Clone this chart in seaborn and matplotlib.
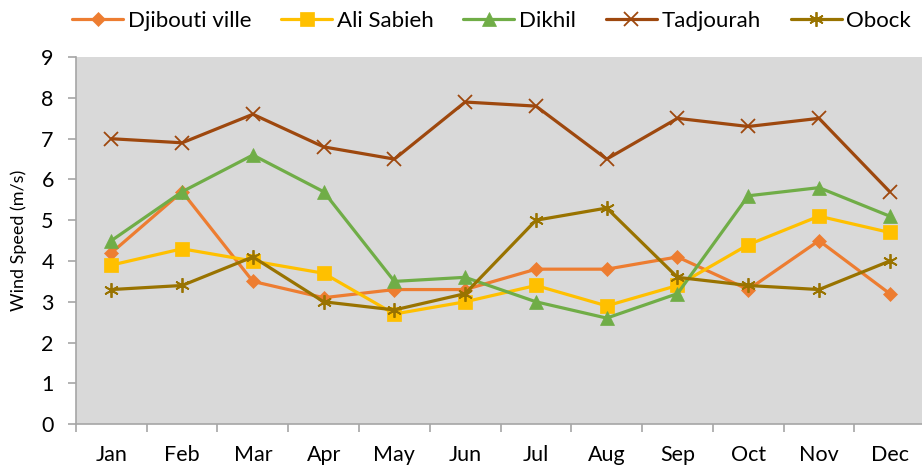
import numpy as np
import pandas as pd
import matplotlib.pyplot as plt
import seaborn as sns
from matplotlib.ticker import FixedLocator

# donnees
months = ["Jan", "Feb", "Mar", "Apr", "May", "Jun", "Jul", "Aug", "Sep", "Oct", "Nov", "Dec"]
djibouti = [4.2, 5.7, 3.5, 3.1, 3.3, 3.3, 3.8, 3.8, 4.1, 3.3, 4.5, 3.2]
ali_sabieh = [3.9, 4.3, 4.0, 3.7, 2.7, 3.0, 3.4, 2.9, 3.4, 4.4, 5.1, 4.7]
dikhil = [4.5, 5.7, 6.6, 5.7, 3.5, 3.6, 3.0, 2.6, 3.2, 5.6, 5.8, 5.1]
tadjourah = [7.0, 6.9, 7.6, 6.8, 6.5, 7.9, 7.8, 6.5, 7.5, 7.3, 7.5, 5.7]
obock = [3.3, 3.4, 4.1, 3.0, 2.8, 3.2, 5.0, 5.3, 3.6, 3.4, 3.3, 4.0]

stations = ["Djibouti ville", "Ali Sabieh", "Dikhil", "Tadjourah", "Obock"]
series = [djibouti, ali_sabieh, dikhil, tadjourah, obock]
colors = ["#ED7D31", "#FFC000", "#70AD47", "#9E480E", "#997300"]
markers = ["D", "s", "^", "x", (6, 2, 0)]
msizes = [7, 9.5, 9.5, 9.5, 10.5]

df = pd.DataFrame({
    "month": months * len(stations),
    "station": np.repeat(stations, len(months)),
    "speed": np.concatenate(series),
})
df["pos"] = df["month"].map({m: i for i, m in enumerate(months)})

sns.set_style("white")
plt.rcParams["font.family"] = ["Lato", "DejaVu Sans"]
plt.rcParams["text.color"] = "black"
plt.rcParams["xtick.color"] = "black"
plt.rcParams["ytick.color"] = "black"
plt.rcParams["axes.labelcolor"] = "black"

fig = plt.figure(figsize=(9.22, 4.65), dpi=100)
ax = fig.add_axes([0.0824, 0.088, 0.921, 0.789])
ax.set_facecolor("#D9D9D9")

for name, col, mk, ms in zip(stations, colors, markers, msizes):
    sub = df[df["station"] == name]
    sns.lineplot(data=sub, x="pos", y="speed", ax=ax, color=col, marker=mk,
                 markersize=ms, linewidth=2.3, markeredgecolor=col,
                 markeredgewidth=1.3 if mk in ("x", (6, 2, 0)) else 0.5,
                 label=name, clip_on=False)

ax.set_xlim(-0.5, 11.5)
ax.set_ylim(0, 9)
ax.set_yticks(range(10))
ax.set_xticks(range(12))
ax.set_xticklabels(months, fontsize=15.5)
ax.xaxis.set_minor_locator(FixedLocator(np.arange(-0.5, 12, 1)))
ax.tick_params(axis="x", which="major", length=0, pad=15)
ax.tick_params(axis="x", which="minor", length=6, color="#A6A6A6", width=1.2, direction="out", bottom=True)
ax.tick_params(axis="y", length=6, color="#A6A6A6", width=1.2, labelsize=15.5, pad=10, direction="out", left=True)
for s in ["top", "right"]:
    ax.spines[s].set_visible(False)
for s in ["left", "bottom"]:
    ax.spines[s].set_color("#A6A6A6")
    ax.spines[s].set_linewidth(1.2)

ax.set_xlabel("")
ax.set_ylabel("Wind Speed (m/s)", fontsize=13, labelpad=10)

ax.legend(loc="upper right", bbox_to_anchor=(1.0, 1.0), bbox_transform=fig.transFigure,
          ncol=5, frameon=False, fontsize=16, handlelength=2.3, handletextpad=0.2,
          columnspacing=1.35, borderaxespad=0.1)

plt.savefig("out.png", dpi=100)
plt.close()
